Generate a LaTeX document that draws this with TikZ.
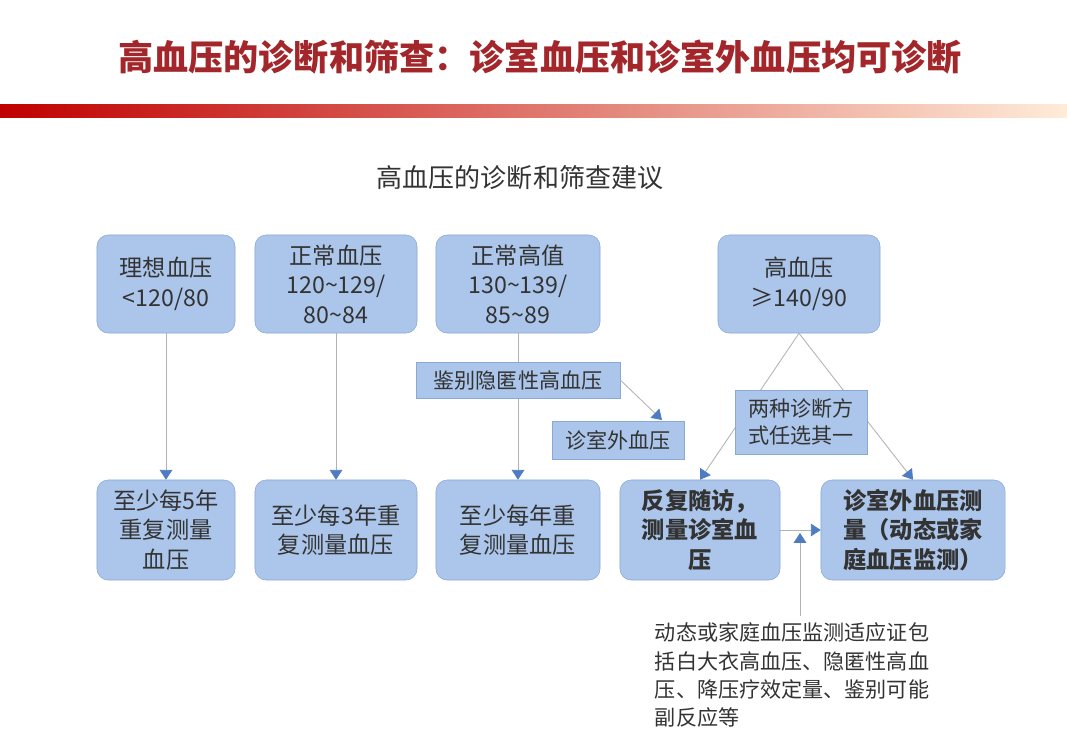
\documentclass[tikz,border=0pt]{standalone}
\usepackage{fontspec}
\setmainfont{Noto Sans CJK SC}
\usetikzlibrary{arrows.meta,positioning}
\definecolor{boxfill}{HTML}{ABC6EA}
\definecolor{boxline}{HTML}{8AA8D6}
\definecolor{tipblue}{HTML}{4F7BC0}
\definecolor{titlered}{HTML}{A3262A}
\begin{document}
\begin{tikzpicture}[x=0.025cm,y=-0.025cm,
  level/.style={draw=boxline, fill=boxfill, rounded corners=8pt, align=center,
    minimum width=3.45cm, minimum height=2.45cm, font=\fontsize{16.5}{21}\selectfont, text=black!80},
  result/.style={level, minimum height=2.5cm},
  tag/.style={draw=boxline, fill=boxfill, align=center, font=\fontsize{15}{19}\selectfont, text=black!80},
  conn/.style={draw=gray!60, line width=0.6pt, -{Triangle[length=7pt,width=9pt,fill=tipblue,color=tipblue]}}]
\tikzset{>=latex}
\useasboundingbox (0,0) rectangle (1067,733);
\fill[white] (0,0) rectangle (1067,733);

% title and band
\node[font=\fontsize{25}{30}\selectfont\bfseries, text=titlered] (title) at (540,57) {高血压的诊断和筛查：诊室血压和诊室外血压均可诊断};
\shade[left color=red!75!black, right color=orange!15] (0,104) rectangle (1067,117);
\node[font=\fontsize{18.5}{22}\selectfont, text=black!80] (sub) at (520,178) {高血压的诊断和筛查建议};

% top row
\node[level] (ideal) at (166,284) {理想血压\\<120/80};
\node[level, minimum width=4.05cm] (normal) at (336,284) {正常血压\\120\textasciitilde129/\\80\textasciitilde84};
\node[level, minimum width=4.1cm] (high) at (518,284) {正常高值\\130\textasciitilde139/\\85\textasciitilde89};
\node[level, minimum width=4.05cm] (hyper) at (799,284) {高血压\\≥140/90};

% bottom row
\node[result] (five) at (166,530) {至少每5年\\重复测量\\血压};
\node[result, minimum width=4.05cm] (three) at (336,530) {至少每3年重\\复测量血压};
\node[result, minimum width=4.1cm] (year) at (518,530) {至少每年重\\复测量血压};
\node[result, minimum width=4cm, font=\fontsize{16.5}{21}\selectfont\bfseries] (visit) at (700,530) {反复随访，\\测量诊室血\\压};
\node[result, minimum width=4.6cm, font=\fontsize{16.5}{21}\selectfont\bfseries] (out) at (913,530) {诊室外血压测\\量（动态或家\\庭血压监测）};

% connectors
\draw[conn] (ideal) -- (five);
\draw[conn] (normal) -- (three);
\draw[conn] (high) -- (year);
\draw[conn] (hyper.south) -- (visit.north);
\draw[conn] (hyper.south) -- (out.north);
\draw[conn] (visit) -- (out);

% side tags
\node[tag, minimum width=5.1cm, minimum height=0.9cm] (mask) at (518,380) {鉴别隐匿性高血压};
\node[tag, minimum width=3.3cm, minimum height=0.95cm] (office) at (618,440) {诊室外血压};
\coordinate (officetip) at (662,420);
\draw[conn] (mask.east) -- (officetip);
\node[tag, minimum width=3.3cm, minimum height=1.6cm] (choose) at (801,422) {两种诊断方\\式任选其一};

% note
\node[align=left, anchor=north west, font=\fontsize{15}{20}\selectfont, text=black!80] (note) at (650,618) {动态或家庭血压监测适应证包\\括白大衣高血压、隐匿性高血\\压、降压疗效定量、鉴别可能\\副反应等};
\coordinate (notetop) at (800,616);
\coordinate (notetip) at (800,533);
\draw[conn] (notetop) -- (notetip);
\end{tikzpicture}
\end{document}
